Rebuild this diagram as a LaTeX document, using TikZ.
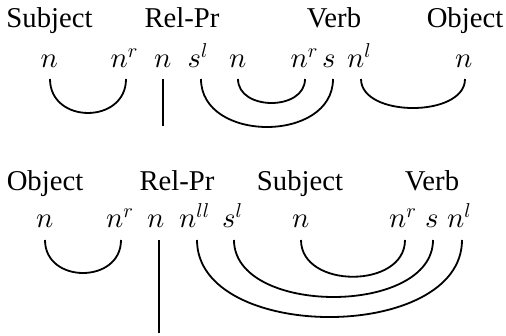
\RequirePackage{fix-cm}
\documentclass[tikz,border=0pt]{standalone}
\usepackage{fontspec}
\setmainfont{Liberation Serif}
\DeclareFontShape{OML}{cmm}{m}{it}{<->cmmi10}{}
\begin{document}
\begin{tikzpicture}[x=1pt,y=-1pt,
  lbl/.style={inner sep=0pt,anchor=base,font=\fontsize{28.7}{34}\selectfont},
  sym/.style={inner sep=0pt,anchor=base west,font=\fontsize{28.7}{34}\selectfont},
  wire/.style={line width=1.8pt}]
\useasboundingbox (0,0) rectangle (506,336);
% ---------- top row ----------
\node[lbl] (tsubj) at (49.5,28) {Subject};
\node[lbl] (trel) at (182,28) {Rel-Pr};
\node[lbl] (tverb) at (334,28) {Verb};
\node[lbl] (tobj) at (465,28) {Object};
\node[sym] (t1) at (40.5,67.5) {$n$};
\node[sym] (t2) at (110.5,67.5) {$n^r$};
\node[sym] (t3) at (154,67.5) {$n$};
\node[sym] (t4) at (187.5,67.5) {$s^l$};
\node[sym] (t5) at (229,67.5) {$n$};
\node[sym] (t6) at (290.5,67.5) {$n^r$};
\node[sym] (t7) at (322,67.5) {$s$};
\node[sym] (t8) at (347,67.5) {$n^l$};
\node[sym] (t9) at (455,67.5) {$n$};
\coordinate (ta1) at (50,79);  \coordinate (ta2) at (126,79);
\coordinate (tv1) at (163,79); \coordinate (tv2) at (163,126);
\coordinate (tb1) at (201,79); \coordinate (tb2) at (333,79);
\coordinate (tc1) at (238,79); \coordinate (tc2) at (305,79);
\coordinate (td1) at (361,79); \coordinate (td2) at (465,79);
\draw[wire] (ta1) .. controls +(0,45.3) and +(0,45.3) .. (ta2);
\draw[wire] (tv1) -- (tv2);
\draw[wire] (tb1) .. controls +(0,64) and +(0,64) .. (tb2);
\draw[wire] (tc1) .. controls +(0,32) and +(0,32) .. (tc2);
\draw[wire] (td1) .. controls +(0,38.7) and +(0,38.7) .. (td2);
% ---------- bottom row ----------
\node[lbl] (bobj) at (45,191) {Object};
\node[lbl] (brel) at (177,191) {Rel-Pr};
\node[lbl] (bsubj) at (300,191) {Subject};
\node[lbl] (bverb) at (432,191) {Verb};
\node[sym] (b1) at (36,227.5) {$n$};
\node[sym] (b2) at (106,227.5) {$n^r$};
\node[sym] (b3) at (147,227.5) {$n$};
\node[sym] (b4) at (179,227.5) {$n^{ll}$};
\node[sym] (b5) at (222,227.5) {$s^l$};
\node[sym] (b6) at (292,227.5) {$n$};
\node[sym] (b7) at (389,227.5) {$n^r$};
\node[sym] (b8) at (425,227.5) {$s$};
\node[sym] (b9) at (447,227.5) {$n^l$};
\coordinate (ba1) at (45,240);  \coordinate (ba2) at (121,240);
\coordinate (bv1) at (159,240); \coordinate (bv2) at (159,333);
\coordinate (bb1) at (197,240); \coordinate (bb2) at (462,240);
\coordinate (bc1) at (234,240); \coordinate (bc2) at (433,240);
\coordinate (bd1) at (301,240); \coordinate (bd2) at (405,240);
\draw[wire] (ba1) .. controls +(0,44) and +(0,44) .. (ba2);
\draw[wire] (bv1) -- (bv2);
\draw[wire] (bb1) .. controls +(0,102.7) and +(0,102.7) .. (bb2);
\draw[wire] (bc1) .. controls +(0,76) and +(0,76) .. (bc2);
\draw[wire] (bd1) .. controls +(0,49) and +(0,49) .. (bd2);
\end{tikzpicture}
\end{document}
